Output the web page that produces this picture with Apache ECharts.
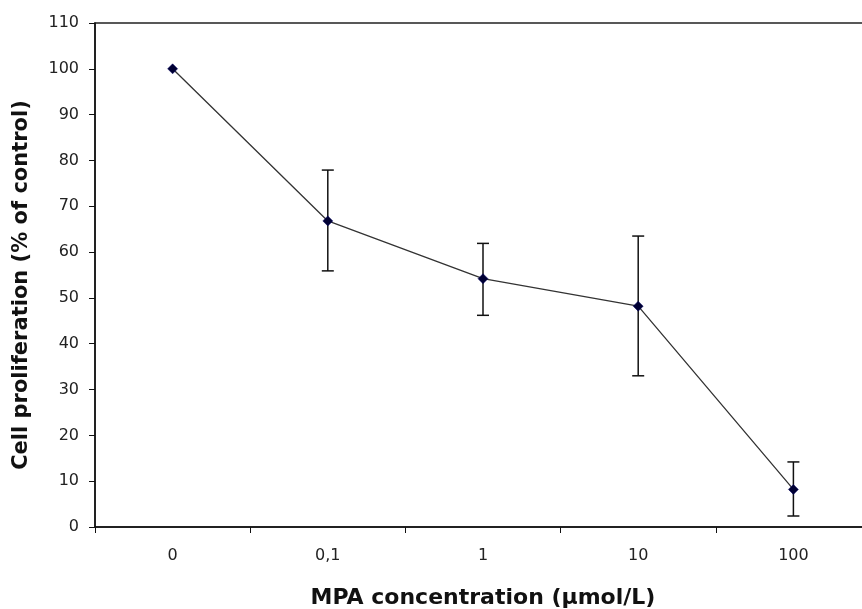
<!DOCTYPE html>
<html><head><meta charset="utf-8">
<script src="https://cdn.jsdelivr.net/npm/echarts@6/dist/echarts.min.js"></script>
<style>html,body{margin:0;padding:0;background:#fff}#c{width:862px;height:609px}</style>
</head><body><div id="c"></div>
<script>
var categories = ['0', '0,1', '1', '10', '100'];
var means = [100, 66.8, 54.2, 48.2, 8.2];
var errLow = [100, 55.9, 46.2, 33.0, 2.4];
var errHigh = [100, 77.9, 61.9, 63.5, 14.2];
var yTicks = {min: 0, max: 110, interval: 10};

var chart = echarts.init(document.getElementById('c'));
var errData = categories.map(function (c, i) { return [i, errLow[i], errHigh[i]]; });
chart.setOption({
  animation: false,
  grid: {left: 95, top: 23, width: 776, bottom: 82, outerBoundsMode: 'none', containLabel: false,
         show: true, borderColor: '#222', borderWidth: 1.5, backgroundColor: 'transparent'},
  xAxis: {
    type: 'category', data: categories, boundaryGap: true,
    name: 'MPA concentration (\u00b5mol/L)', nameLocation: 'middle', nameGap: 60,
    nameTextStyle: {fontFamily: 'DejaVu Sans', fontWeight: 'bold', fontSize: 22, color: '#111'},
    axisLine: {lineStyle: {color: '#111', width: 1.5}},
    axisTick: {show: true, length: 6, inside: false, alignWithLabel: false, lineStyle: {color: '#111'}},
    axisLabel: {fontFamily: 'DejaVu Sans', fontSize: 16, color: '#222', margin: 21}
  },
  yAxis: {
    type: 'value', min: yTicks.min, max: yTicks.max, interval: yTicks.interval,
    name: 'Cell proliferation (% of control)', nameLocation: 'middle', nameGap: 63,
    nameTextStyle: {fontFamily: 'DejaVu Sans', fontWeight: 'bold', fontSize: 21, color: '#111', padding: [0, 20, 0, 0]},
    axisLine: {show: true, lineStyle: {color: '#111', width: 1.5}},
    axisTick: {show: true, length: 6, lineStyle: {color: '#111'}},
    splitLine: {show: false},
    axisLabel: {fontFamily: 'DejaVu Sans', fontSize: 16, color: '#222', margin: 16}
  },
  series: [
    {
      type: 'custom', data: errData, z: 3,
      renderItem: function (params, api) {
        var x = api.coord([api.value(0), 0])[0];
        var lo = api.coord([api.value(0), api.value(1)])[1];
        var hi = api.coord([api.value(0), api.value(2)])[1];
        if (Math.abs(lo - hi) < 1) return null;
        var w = 6;
        var st = {stroke: '#111', lineWidth: 1.5};
        return {type: 'group', children: [
          {type: 'line', shape: {x1: x, y1: lo, x2: x, y2: hi}, style: st},
          {type: 'line', shape: {x1: x - w, y1: lo, x2: x + w, y2: lo}, style: st},
          {type: 'line', shape: {x1: x - w, y1: hi, x2: x + w, y2: hi}, style: st}
        ]};
      }
    },
    {
      type: 'line', data: means, z: 4,
      symbol: 'diamond', symbolSize: 10,
      itemStyle: {color: '#000033', borderColor: '#000066', borderWidth: 0.5},
      lineStyle: {color: '#333', width: 1.3}
    }
  ]
});
</script></body></html>
